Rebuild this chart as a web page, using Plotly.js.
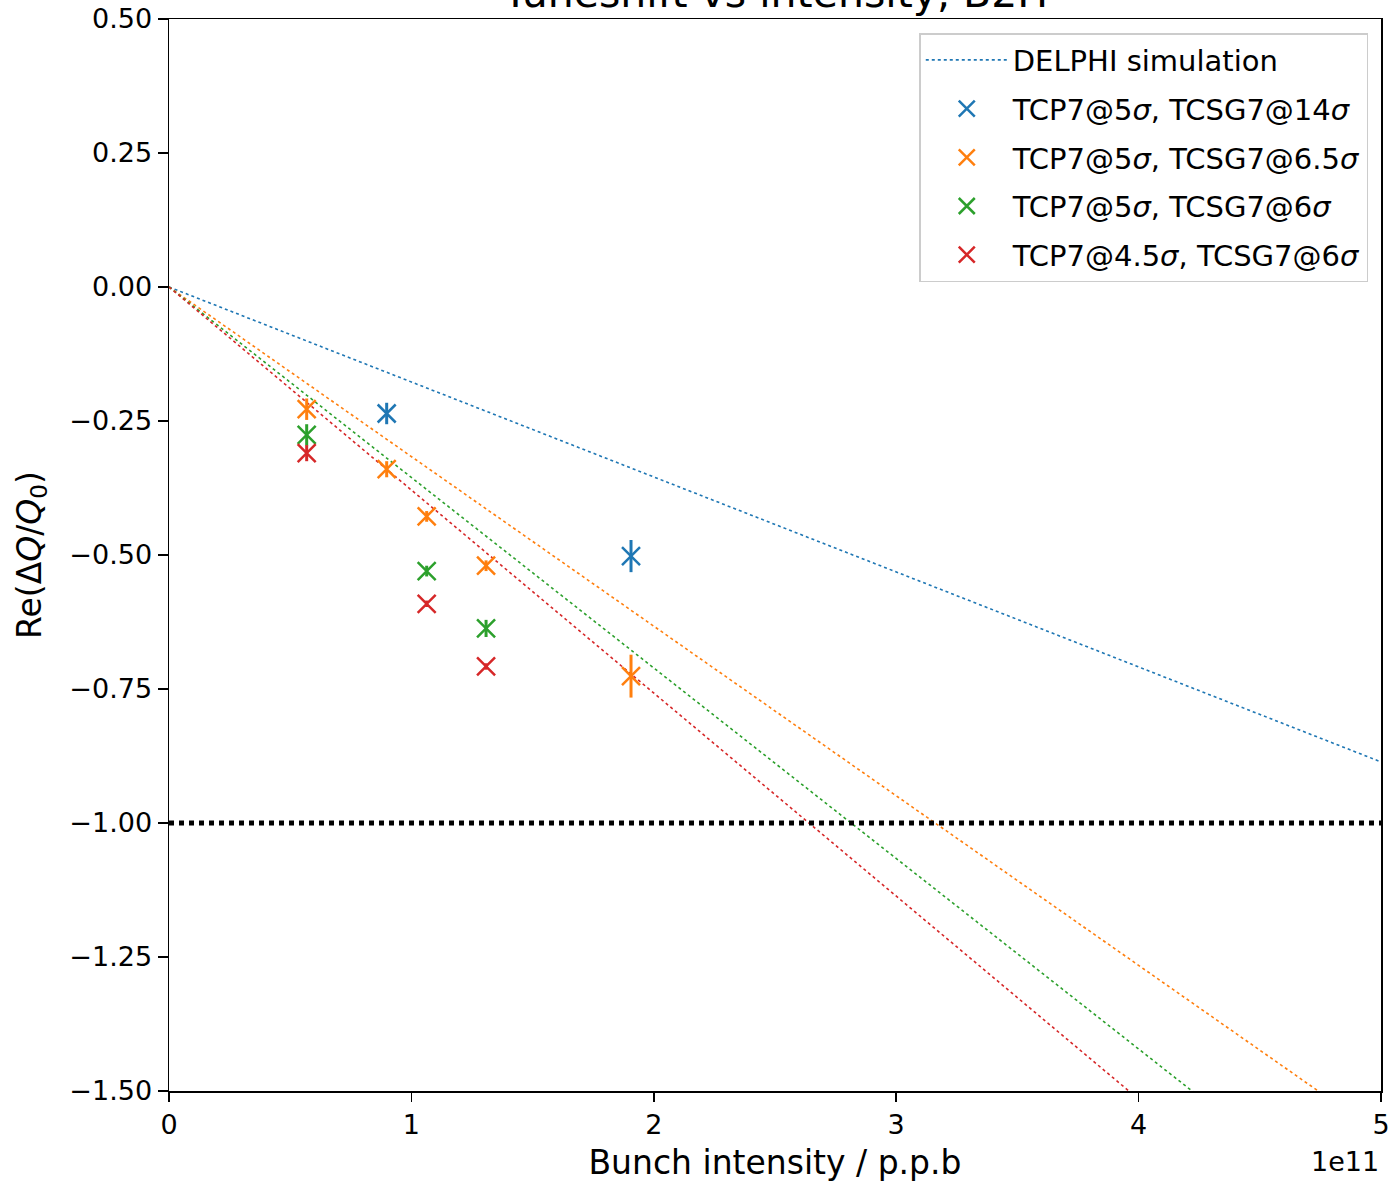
<!DOCTYPE html>
<html>
<head>
<meta charset="utf-8">
<script src="https://cdn.plot.ly/plotly-3.0.1.min.js"></script>
<style>html,body{margin:0;padding:0;background:#fff;}#chart{width:1390px;height:1183px;}</style>
</head>
<body>
<div id="chart"></div>
<script>
// Intensity in units of 1e11 p.p.b
var fitX = [0, 5];
var delphiY = [0, -0.886];
var fitOrangeY = [0, -1.582];
var fitGreenY = [0, -1.777];
var fitRedY = [0, -1.894];
var limitX = [0, 5];
var limitY = [-1, -1];

var blueX = [0.898, 1.906];
var blueY = [-0.236, -0.502];
var blueErr = [0.02, 0.03];

var orangeX = [0.568, 0.898, 1.063, 1.308, 1.906];
var orangeY = [-0.228, -0.340, -0.428, -0.520, -0.726];
var orangeErr = [0.02, 0.015, 0.01, 0.01, 0.04];

var greenX = [0.568, 1.063, 1.308];
var greenY = [-0.276, -0.530, -0.637];
var greenErr = [0.02, 0.01, 0.016];

var redX = [0.568, 1.063, 1.308];
var redY = [-0.310, -0.591, -0.708];
var redErr = [0.015, 0.006, 0.006];

var titleText = 'Tuneshift vs intensity, B2H';
var names = ['DELPHI simulation',
  'TCP7@5<i>σ</i>, TCSG7@14<i>σ</i>',
  'TCP7@5<i>σ</i>, TCSG7@6.5<i>σ</i>',
  'TCP7@5<i>σ</i>, TCSG7@6<i>σ</i>',
  'TCP7@4.5<i>σ</i>, TCSG7@6<i>σ</i>'];

var C = ['#1f77b4', '#ff7f0e', '#2ca02c', '#d62728'];

function pts(x, y, e, c, name, g) {
  return {x: x, y: y, type: 'scatter', mode: 'markers', name: name, legendgroup: g,
    marker: {symbol: 'x-thin-open', size: 18, color: c, line: {color: c, width: 2.5}},
    error_y: {type: 'data', array: e, visible: true, color: c, thickness: 3, width: 0}};
}
function fit(y, c, name, show, g) {
  return {x: fitX, y: y, type: 'scatter', mode: 'lines', name: name, showlegend: show, legendgroup: g,
    line: {color: c, width: 1.6, dash: 'dot'}, hoverinfo: 'skip'};
}

var data = [
  fit(delphiY, C[0], names[0], true, 'g0'),
  fit(fitOrangeY, C[1], 'fit orange', false, 'f1'),
  fit(fitGreenY, C[2], 'fit green', false, 'f2'),
  fit(fitRedY, C[3], 'fit red', false, 'f3'),
  {x: limitX, y: limitY, type: 'scatter', mode: 'lines', showlegend: false, legendgroup: 'f4',
   line: {color: '#000', width: 5, dash: 'dot'}},
  pts(blueX, blueY, blueErr, C[0], names[1], 'g1'),
  pts(orangeX, orangeY, orangeErr, C[1], names[2], 'g2'),
  pts(greenX, greenY, greenErr, C[2], names[3], 'g3'),
  pts(redX, redY, redErr, C[3], names[4], 'g4')
];

var font = 'DejaVu Sans, sans-serif';
var layout = {
  width: 1390, height: 1183,
  margin: {l: 169, r: 9, t: 19, b: 92},
  paper_bgcolor: '#fff', plot_bgcolor: '#fff',
  font: {family: font, color: '#000', size: 27},
  showlegend: true,
  xaxis: {range: [0, 5], tickvals: [0, 1, 2, 3, 4, 5], ticktext: ['0', '1', '2', '3', '4', '5'],
    showgrid: false, zeroline: false, showline: true, linecolor: '#000', linewidth: 1.5, mirror: true,
    ticks: 'outside', ticklen: 9, tickwidth: 1.5, tickcolor: '#000', tickfont: {size: 27},
    title: {text: 'Bunch intensity / p.p.b', font: {size: 33}, standoff: 12}},
  yaxis: {range: [-1.5, 0.5], tickvals: [0.5, 0.25, 0, -0.25, -0.5, -0.75, -1, -1.25, -1.5],
    tickformat: '.2f', showgrid: false, zeroline: false, showline: true, linecolor: '#000', linewidth: 1.5, mirror: true,
    ticks: 'outside', ticklen: 10, tickwidth: 1.5, tickcolor: '#000', tickfont: {size: 27},
    title: {text: 'Re(Δ<i>Q</i>/<i>Q</i><sub>0</sub>)', font: {size: 33}, standoff: 18}},
  legend: {x: 0.9895, xanchor: 'right', y: 0.9869, yanchor: 'top', bgcolor: 'rgba(255,255,255,0.8)',
    bordercolor: '#ccc', borderwidth: 1.5, font: {size: 29}, tracegroupgap: 8, itemwidth: 82,
    traceorder: 'grouped'},
  annotations: [
    {text: '1e11', xref: 'paper', yref: 'paper', x: 1, y: -0.066, xanchor: 'right', yanchor: 'middle',
     showarrow: false, font: {size: 27}},
    {text: titleText, xref: 'paper', yref: 'paper', x: 0.5, y: 1.0243, xanchor: 'center', yanchor: 'middle',
     showarrow: false, font: {size: 41}}
  ]
};

Plotly.newPlot('chart', data, layout, {displayModeBar: false, staticPlot: true});
</script>
</body>
</html>
